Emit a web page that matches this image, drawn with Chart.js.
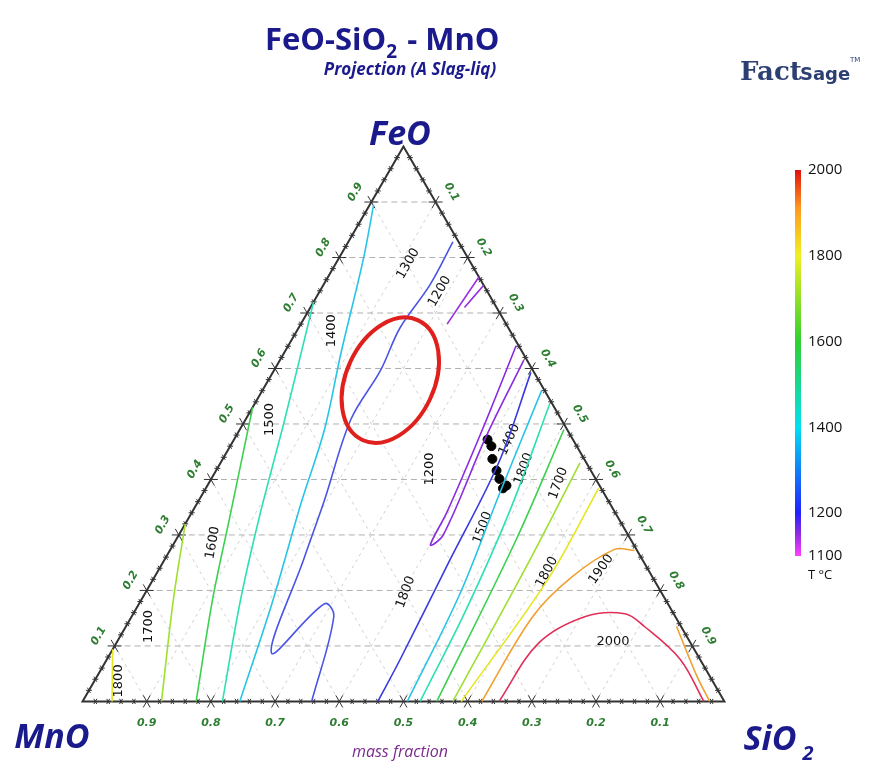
<!DOCTYPE html>
<html>
<head>
<meta charset="utf-8">
<script src="https://cdn.jsdelivr.net/npm/chart.js@4.4.1/dist/chart.umd.min.js"></script>
<style>
  body { margin: 0; background: #fff; }
  canvas { display: block; }
</style>
</head>
<body>
<canvas id="chart" width="880" height="770"></canvas>
<script>
// contour lines as [SiO2, FeO] mass fractions (MnO is the rest)
const iso1150a = [[0.235, 0.765], [0.228, 0.68]]
const iso1150b = [[0.25, 0.75], [0.24, 0.71]]
const iso1150loop = [[0.355, 0.641], [0.378, 0.49], [0.397, 0.343], [0.401, 0.282], [0.412, 0.30], [0.39, 0.478], [0.38, 0.615]]
const iso1250 = [[0.163, 0.828], [0.166, 0.751], [0.158, 0.673], [0.166, 0.597], [0.164, 0.508], [0.196, 0.361], [0.216, 0.259], [0.251, 0.087], [0.289, 0.176], [0.315, 0.153], [0.357, 0]]
const iso1200 = [[0.402, 0.593], [0.433, 0.432], [0.445, 0.254], [0.457, 0.076], [0.46, 0]]
const iso1400L = [[0.006, 0.895], [0.039, 0.797], [0.089, 0.627], [0.132, 0.49], [0.161, 0.361], [0.207, 0.176], [0.245, 0]]
const iso1500L = [[0.0, 0.72], [0.061, 0.508], [0.11, 0.33], [0.157, 0.176], [0.218, 0]]
const iso1600L = [[0.0, 0.53], [0.064, 0.33], [0.111, 0.183], [0.177, 0]]
const iso1700L = [[0.0, 0.32], [0.05, 0.183], [0.123, 0]]
const iso1800L = [[0.0, 0.094], [0.046, 0]]
const iso1400R = [[0.435, 0.561], [0.463, 0.371], [0.491, 0.194], [0.506, 0]]
const iso1500R = [[0.46, 0.535], [0.494, 0.343], [0.515, 0.165], [0.526, 0]]
const iso1600R = [[0.505, 0.49], [0.53, 0.29], [0.552, 0]]
const iso1700R = [[0.56, 0.43], [0.57, 0.242], [0.577, 0]]
const iso1800R = [[0.612, 0.384], [0.615, 0.22], [0.59, 0]]
const iso1900 = [[0.724, 0.272], [0.692, 0.274], [0.65, 0.224], [0.625, 0.153], [0.622, 0]]
const iso1900b = [[0.858, 0.135], [0.934, 0.046], [0.977, 0]]
const iso2000 = [[0.649, 0], [0.658, 0.105], [0.707, 0.153], [0.766, 0.158], [0.808, 0.135], [0.893, 0.076], [0.968, 0]]
const samples = [[0.395, 0.472], [0.407, 0.46], [0.42, 0.437], [0.437, 0.416], [0.449, 0.401], [0.463, 0.384], [0.466, 0.389]]

const contourLabels = [
  ['1300', 0.113, 0.789, -60], ['1200', 0.187, 0.739, -60], ['1400', 0.054, 0.668, -90],
  ['1500', 0.038, 0.508, -90], ['1600', 0.06, 0.286, -80], ['1700', 0.036, 0.135, -90],
  ['1800', 0.038, 0.037, -90], ['1200', 0.332, 0.419, -90], ['1800', 0.405, 0.197, -70],
  ['1400', 0.429, 0.472, -65], ['1500', 0.467, 0.313, -70], ['1800', 0.478, 0.419, -70],
  ['1700', 0.545, 0.393, -70], ['1800', 0.607, 0.233, -62], ['1900', 0.689, 0.238, -55],
  ['2000', 0.773, 0.107, 0]
]
const tickValues = [0.1, 0.2, 0.3, 0.4, 0.5, 0.6, 0.7, 0.8, 0.9]
const cbarTicks = [2000, 1800, 1600, 1400, 1200, 1100]

const H = Math.sqrt(3) / 2
const toXY = ([s, f]) => ({ x: s + f / 2, y: f * H })

const line = (pts, color) => ({
  type: 'line', data: pts.map(toXY), borderColor: color, borderWidth: 1.6,
  pointRadius: 0, tension: 0.35, fill: false
})

const datasets = [
  line(iso1150a, '#9b30e0'), line(iso1150b, '#9b30e0'), line(iso1150loop, '#8a2be2'),
  line(iso1250, '#4a55e6'), line(iso1200, '#3a3ae0'),
  line(iso1400L, '#28c4e6'), line(iso1500L, '#2ee0b0'), line(iso1600L, '#3cd050'),
  line(iso1700L, '#9ee030'), line(iso1800L, '#e6e620'),
  line(iso1400R, '#28c4e6'), line(iso1500R, '#2ee0b0'), line(iso1600R, '#3cd050'),
  line(iso1700R, '#9ee030'), line(iso1800R, '#e6e620'),
  line(iso1900, '#f0a030'), line(iso1900b, '#f0a030'), line(iso2000, '#e0305a'),
  { type: 'scatter', data: samples.map(toXY), pointRadius: 4.5, backgroundColor: '#000', borderColor: '#000' }
]

const decor = {
  id: 'decor',
  beforeDatasetsDraw(chart) {
    const { ctx, scales: { x, y } } = chart
    const P = (s, f) => { const q = toXY([s, f]); return [x.getPixelForValue(q.x), y.getPixelForValue(q.y)] }
    const seg = (a, b) => { ctx.beginPath(); ctx.moveTo(...a); ctx.lineTo(...b); ctx.stroke() }
    ctx.save()
    // grid
    ctx.lineWidth = 1
    tickValues.forEach(v => {
      ctx.strokeStyle = '#b0b0b0'; ctx.setLineDash([6, 4])
      seg(P(0, v), P(1 - v, v))
      ctx.strokeStyle = '#d0d0d0'; ctx.setLineDash([3, 4])
      seg(P(v, 0), P(v, 1 - v))
      seg(P(0, 1 - v), P(1 - v, 0))
    })
    ctx.setLineDash([])
    // frame
    ctx.strokeStyle = '#333'; ctx.lineWidth = 2
    ctx.beginPath(); ctx.moveTo(...P(0, 0)); ctx.lineTo(...P(1, 0)); ctx.lineTo(...P(0, 1)); ctx.closePath(); ctx.stroke()
    // ticks
    ctx.lineWidth = 1
    for (let i = 1; i < 50; i++) {
      const v = i / 50, big = i % 5 === 0, L = big ? 7 : 3
      ;[[P(0, v), -150], [P(1 - v, v), -30], [P(v, 0), 90]].forEach(([p, a]) => {
        const r = a * Math.PI / 180
        ;[-30, 30].forEach(d => {
          const rr = r + d * Math.PI / 180
          seg([p[0] - Math.cos(rr) * L, p[1] - Math.sin(rr) * L], [p[0] + Math.cos(rr) * L, p[1] + Math.sin(rr) * L])
        })
      })
    }
    // tick labels
    ctx.fillStyle = '#2e7d32'; ctx.font = 'italic bold 11px "DejaVu Sans"'
    ctx.textAlign = 'center'; ctx.textBaseline = 'middle'
    const rot = (t, p, a) => { ctx.save(); ctx.translate(...p); ctx.rotate(a * Math.PI / 180); ctx.fillText(t, 0, 0); ctx.restore() }
    tickValues.forEach(v => {
      const t = v.toFixed(1)
      const l = P(0, v); rot(t, [l[0] - 16, l[1] - 10], -60)
      const r = P(v, 1 - v); rot(t, [r[0] + 16, r[1] - 10], 60)
      const b = P(1 - v, 0); rot(t, [b[0], b[1] + 22], 0)
    })
    // contour labels
    ctx.fillStyle = '#111'; ctx.font = '13px "DejaVu Sans"'
    contourLabels.forEach(([t, s, f, a]) => rot(t, P(s, f), a))
    ctx.restore()
  },
  afterDatasetsDraw(chart) {
    const { ctx, scales: { x, y } } = chart
    const q = toXY([0.19, 0.579])
    ctx.save()
    ctx.strokeStyle = '#e0201c'; ctx.lineWidth = 4
    ctx.beginPath()
    ctx.ellipse(x.getPixelForValue(q.x), y.getPixelForValue(q.y), 44, 66, 25 * Math.PI / 180, 0, 2 * Math.PI)
    ctx.stroke()

    // titles
    ctx.fillStyle = '#1a1a8c'; ctx.textBaseline = 'alphabetic'; ctx.textAlign = 'left'
    ctx.font = 'bold 31px "Open Sans"'
    ctx.fillText('FeO-SiO', 265, 50)
    let w = ctx.measureText('FeO-SiO').width
    ctx.font = 'bold 19px "Open Sans"'; ctx.fillText('2', 265 + w, 58)
    ctx.font = 'bold 31px "Open Sans"'; ctx.fillText(' - MnO', 278 + w, 50)
    ctx.textAlign = 'center'
    ctx.font = 'italic bold 17px "Open Sans"'; ctx.fillText('Projection (A Slag-liq)', 410, 75)
    ctx.font = 'italic bold 34px "Open Sans"'
    ctx.fillText('FeO', 400, 145)
    ctx.fillText('MnO', 52, 748)
    ctx.fillText('SiO', 770, 750)
    ctx.font = 'italic bold 20px "Open Sans"'; ctx.fillText('2', 808, 760)
    ctx.fillStyle = '#7b2a8c'; ctx.font = 'italic 16px "Open Sans"'
    ctx.fillText('mass fraction', 400, 757)
    // FactSage logo
    ctx.fillStyle = '#2c3f73'; ctx.font = 'bold 26px "DejaVu Serif"'; ctx.textAlign = 'left'
    ctx.fillText('Fact', 740, 80)
    ctx.font = 'bold 18px "DejaVu Sans"'; ctx.fillText('Sage', 800, 80)
    ctx.font = '7px "DejaVu Sans"'; ctx.fillText('TM', 850, 62)

    // colour bar
    const top = 170, bot = 556
    const g = ctx.createLinearGradient(0, bot, 0, top)
    ;[[0, '#ff40ff'], [0.06, '#8a2be2'], [0.111, '#2020ff'], [0.333, '#00e0f0'], [0.556, '#30d030'],
      [0.778, '#f0f020'], [0.9, '#ff9a20'], [1, '#e01010']].forEach(([o, c]) => g.addColorStop(o, c))
    ctx.fillStyle = g; ctx.fillRect(795, top, 6, bot - top)
    ctx.fillStyle = '#111'; ctx.font = '15px "Open Sans"'; ctx.textBaseline = 'middle'
    cbarTicks.forEach(t => {
      const py = bot - (t - 1100) / 900 * (bot - top)
      ctx.fillText(String(t), 808, py)
    })
    ctx.font = '13px "Open Sans"'; ctx.fillText('T °C', 808, 575)
    ctx.restore()
  }
}

new Chart(document.getElementById('chart'), {
  type: 'line',
  data: { datasets },
  options: {
    responsive: false,
    animation: false,
    layout: { padding: 0 },
    plugins: { legend: { display: false }, tooltip: { enabled: false } },
    scales: {
      x: { type: 'linear', display: false, min: -78 / 650, max: 802 / 650 },
      y: { type: 'linear', display: false, min: -64 / 650, max: 706 / 650 }
    }
  },
  plugins: [decor]
})
</script>
</body>
</html>
